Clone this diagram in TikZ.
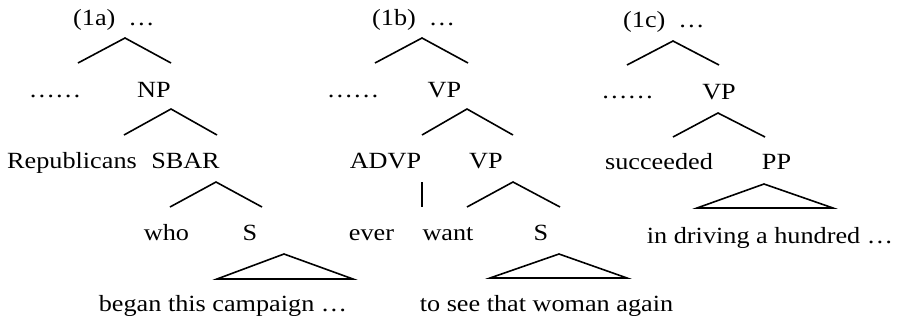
\documentclass[tikz,border=0pt]{standalone}
\usepackage{fontspec}
\setmainfont{Liberation Serif}[FakeStretch=1.13]
\begin{document}
\begin{tikzpicture}[x=1pt,y=-1pt,
  lbl/.style={inner sep=0pt,anchor=base,font=\fontsize{23.2pt}{28pt}\selectfont},
  tag/.style={lbl,anchor=base west},
  edge/.style={line width=1.6pt,line join=miter},
  roof/.style={edge}]
\useasboundingbox (0,0) rectangle (900,322);

% ---------------- (1a) ----------------
\node[tag] (a0) at (73,25) {(1a)\hspace{13pt}…};
\node[lbl] (adots) at (55,97) {……};
\node[lbl] (anp) at (154,97) {NP};
\node[lbl] (arep) at (72,168) {Republicans};
\node[lbl] (asbar) at (185.5,168) {SBAR};
\node[lbl] (awho) at (166.5,240) {who};
\node[lbl] (as) at (250,240) {S};
\node[lbl] (aleaf) at (223,311) {began this campaign …};

\coordinate (a0t) at (125,38);  \coordinate (a0l) at (78,63);   \coordinate (a0r) at (171,63);
\coordinate (a1t) at (171,109); \coordinate (a1l) at (124,135); \coordinate (a1r) at (217,135);
\coordinate (a2t) at (216,182); \coordinate (a2l) at (170,207); \coordinate (a2r) at (262,207);
\coordinate (a3t) at (284,254); \coordinate (a3l) at (217,279); \coordinate (a3r) at (353,279);
\draw[edge] (a0l) -- (a0t) -- (a0r);
\draw[edge] (a1l) -- (a1t) -- (a1r);
\draw[edge] (a2l) -- (a2t) -- (a2r);
\draw[roof] (a3l) -- (a3t) -- (a3r) -- cycle;

% ---------------- (1b) ----------------
\node[tag] (b0) at (372,25) {(1b)\hspace{13pt}…};
\node[lbl] (bdots) at (353,97) {……};
\node[lbl] (bvp) at (444.5,97) {VP};
\node[lbl] (badvp) at (385.5,168) {ADVP};
\node[lbl] (bvp2) at (486,168) {VP};
\node[lbl] (bever) at (371.5,240) {ever};
\node[lbl] (bwant) at (448,240) {want};
\node[lbl] (bs) at (541,240) {S};
\node[lbl] (bleaf) at (546.5,311) {to see that woman again};

\coordinate (b0t) at (422,38);  \coordinate (b0l) at (375,63);  \coordinate (b0r) at (468,63);
\coordinate (b1t) at (467,109); \coordinate (b1l) at (422,135); \coordinate (b1r) at (513,135);
\coordinate (bvt) at (422,182); \coordinate (bvb) at (422,207);
\coordinate (b2t) at (513,182); \coordinate (b2l) at (467,207); \coordinate (b2r) at (560,207);
\coordinate (b3t) at (559,254); \coordinate (b3l) at (490,278); \coordinate (b3r) at (627,278);
\draw[edge] (b0l) -- (b0t) -- (b0r);
\draw[edge] (b1l) -- (b1t) -- (b1r);
\draw[edge] (bvt) -- (bvb);
\draw[edge] (b2l) -- (b2t) -- (b2r);
\draw[roof] (b3l) -- (b3t) -- (b3r) -- cycle;

% ---------------- (1c) ----------------
\node[tag] (c0) at (623,27) {(1c)\hspace{13pt}…};
\node[lbl] (cdots) at (627.5,98) {……};
\node[lbl] (cvp) at (719,99) {VP};
\node[lbl] (csucc) at (659,169) {succeeded};
\node[lbl] (cpp) at (776.5,169) {PP};
\node[lbl] (cleaf) at (770,243) {in driving a hundred …};

\coordinate (c0t) at (673,41);  \coordinate (c0l) at (627,65);  \coordinate (c0r) at (719,65);
\coordinate (c1t) at (718,113); \coordinate (c1l) at (673,137); \coordinate (c1r) at (765,137);
\coordinate (c2t) at (764,184); \coordinate (c2l) at (697,208); \coordinate (c2r) at (833,208);
\draw[edge] (c0l) -- (c0t) -- (c0r);
\draw[edge] (c1l) -- (c1t) -- (c1r);
\draw[roof] (c2l) -- (c2t) -- (c2r) -- cycle;
\end{tikzpicture}
\end{document}
